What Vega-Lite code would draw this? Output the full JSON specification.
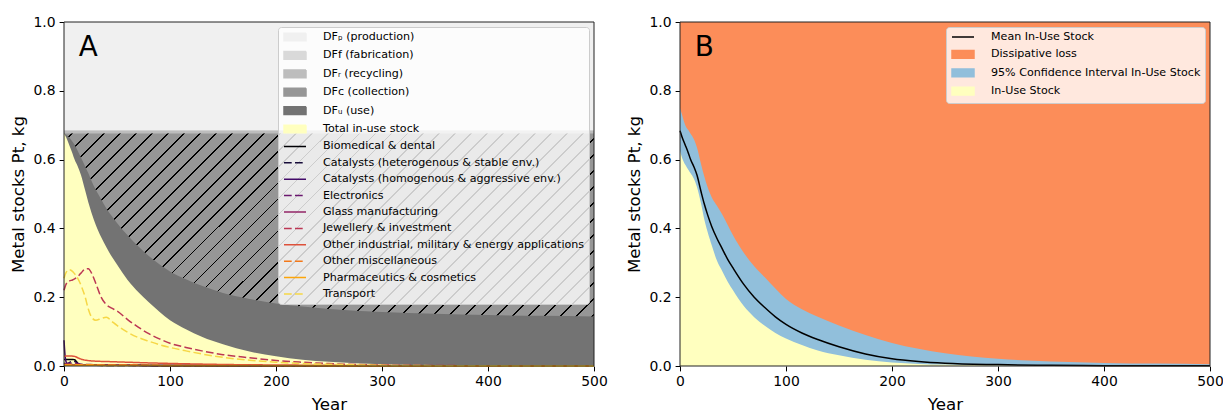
{
  "$schema": "https://vega.github.io/schema/vega-lite/v6.json",
  "background": "white",
  "padding": {"left": 10, "top": 15, "right": 5, "bottom": 2},
  "spacing": 18,
  "resolve": {"scale": {"color": "independent", "strokeDash": "independent", "x": "independent", "y": "independent"}, "legend": {"color": "independent"}},
  "config": {
    "font": "DejaVu Sans",
    "view": {"stroke": null},
    "axis": {"grid": false, "domain": false, "labelFontSize": 13.9, "titleFontSize": 16.7, "titleFontWeight": "normal", "tickSize": 4.9, "tickWidth": 1, "tickColor": "#000", "labelColor": "#000", "titleColor": "#000", "labelPadding": 4, "tickCount": 6, "labelFlush": false, "labelOverlap": false},
    "axisX": {"titlePadding": 8},
    "axisY": {"titlePadding": 5.5, "format": ".1f"},
    "legend": {"orient": "top-right", "offset": 5, "padding": 4, "fillColor": "rgba(255,255,255,0.8)", "strokeColor": "#cccccc", "cornerRadius": 3, "labelFontSize": 11.1, "labelColor": "#000", "labelLimit": 400, "symbolSize": 100, "symbolStrokeWidth": 1.5, "rowPadding": 4.4, "symbolOffset": 7, "labelOffset": 22}
  },
  "datasets": {
    "areaA": [
      {"year":0,"inuse":0.676,"dfu":0.676,"dfc":0.676,"dfr":0.684,"dff":0.686},
      {"year":2,"inuse":0.665,"dfu":0.672,"dfc":0.676,"dfr":0.684,"dff":0.686},
      {"year":5,"inuse":0.642,"dfu":0.664,"dfc":0.676,"dfr":0.684,"dff":0.686},
      {"year":8,"inuse":0.618,"dfu":0.652,"dfc":0.676,"dfr":0.684,"dff":0.686},
      {"year":10,"inuse":0.6,"dfu":0.643,"dfc":0.676,"dfr":0.684,"dff":0.686},
      {"year":13,"inuse":0.58,"dfu":0.625,"dfc":0.676,"dfr":0.684,"dff":0.686},
      {"year":16,"inuse":0.555,"dfu":0.606,"dfc":0.676,"dfr":0.684,"dff":0.686},
      {"year":20,"inuse":0.51,"dfu":0.58,"dfc":0.676,"dfr":0.684,"dff":0.686},
      {"year":23,"inuse":0.475,"dfu":0.56,"dfc":0.676,"dfr":0.684,"dff":0.686},
      {"year":26,"inuse":0.445,"dfu":0.538,"dfc":0.676,"dfr":0.684,"dff":0.686},
      {"year":30,"inuse":0.41,"dfu":0.512,"dfc":0.676,"dfr":0.684,"dff":0.686},
      {"year":35,"inuse":0.375,"dfu":0.485,"dfc":0.676,"dfr":0.684,"dff":0.686},
      {"year":40,"inuse":0.345,"dfu":0.458,"dfc":0.676,"dfr":0.684,"dff":0.686},
      {"year":45,"inuse":0.318,"dfu":0.436,"dfc":0.676,"dfr":0.684,"dff":0.686},
      {"year":50,"inuse":0.295,"dfu":0.416,"dfc":0.676,"dfr":0.684,"dff":0.686},
      {"year":60,"inuse":0.25,"dfu":0.38,"dfc":0.676,"dfr":0.684,"dff":0.686},
      {"year":70,"inuse":0.215,"dfu":0.348,"dfc":0.676,"dfr":0.684,"dff":0.686},
      {"year":80,"inuse":0.185,"dfu":0.32,"dfc":0.676,"dfr":0.684,"dff":0.686},
      {"year":90,"inuse":0.158,"dfu":0.296,"dfc":0.676,"dfr":0.684,"dff":0.686},
      {"year":100,"inuse":0.133,"dfu":0.275,"dfc":0.676,"dfr":0.684,"dff":0.686},
      {"year":115,"inuse":0.107,"dfu":0.252,"dfc":0.676,"dfr":0.684,"dff":0.686},
      {"year":130,"inuse":0.085,"dfu":0.233,"dfc":0.676,"dfr":0.684,"dff":0.686},
      {"year":150,"inuse":0.063,"dfu":0.212,"dfc":0.676,"dfr":0.684,"dff":0.686},
      {"year":175,"inuse":0.042,"dfu":0.195,"dfc":0.676,"dfr":0.684,"dff":0.686},
      {"year":200,"inuse":0.028,"dfu":0.182,"dfc":0.676,"dfr":0.684,"dff":0.686},
      {"year":225,"inuse":0.018,"dfu":0.173,"dfc":0.676,"dfr":0.684,"dff":0.686},
      {"year":250,"inuse":0.012,"dfu":0.166,"dfc":0.676,"dfr":0.684,"dff":0.686},
      {"year":300,"inuse":0.005,"dfu":0.157,"dfc":0.676,"dfr":0.684,"dff":0.686},
      {"year":350,"inuse":0.002,"dfu":0.152,"dfc":0.676,"dfr":0.684,"dff":0.686},
      {"year":400,"inuse":0.001,"dfu":0.148,"dfc":0.676,"dfr":0.684,"dff":0.686},
      {"year":450,"inuse":0.0005,"dfu":0.146,"dfc":0.676,"dfr":0.684,"dff":0.686},
      {"year":500,"inuse":0.0003,"dfu":0.144,"dfc":0.676,"dfr":0.684,"dff":0.686}
    ],
    "linesA": [
      {"s":"Biomedical & dental","year":0,"v":0.019},{"s":"Biomedical & dental","year":2,"v":0.019},{"s":"Biomedical & dental","year":5,"v":0.019},{"s":"Biomedical & dental","year":8,"v":0.019},{"s":"Biomedical & dental","year":10,"v":0.018},{"s":"Biomedical & dental","year":12,"v":0.012},{"s":"Biomedical & dental","year":14,"v":0.005},{"s":"Biomedical & dental","year":17,"v":0.003},{"s":"Biomedical & dental","year":20,"v":0.003},{"s":"Biomedical & dental","year":30,"v":0.003},{"s":"Biomedical & dental","year":40,"v":0.0028},{"s":"Biomedical & dental","year":50,"v":0.0025},{"s":"Biomedical & dental","year":70,"v":0.002},{"s":"Biomedical & dental","year":100,"v":0.0015},{"s":"Biomedical & dental","year":150,"v":0.001},{"s":"Biomedical & dental","year":200,"v":0.0006},{"s":"Biomedical & dental","year":300,"v":0.0002},{"s":"Biomedical & dental","year":500,"v":0},
      {"s":"Catalysts (heterogenous & stable env.)","year":0,"v":0.008},{"s":"Catalysts (heterogenous & stable env.)","year":3,"v":0.006},{"s":"Catalysts (heterogenous & stable env.)","year":6,"v":0.012},{"s":"Catalysts (heterogenous & stable env.)","year":9,"v":0.014},{"s":"Catalysts (heterogenous & stable env.)","year":12,"v":0.01},{"s":"Catalysts (heterogenous & stable env.)","year":15,"v":0.004},{"s":"Catalysts (heterogenous & stable env.)","year":20,"v":0.003},{"s":"Catalysts (heterogenous & stable env.)","year":30,"v":0.002},{"s":"Catalysts (heterogenous & stable env.)","year":50,"v":0.0015},{"s":"Catalysts (heterogenous & stable env.)","year":100,"v":0.001},{"s":"Catalysts (heterogenous & stable env.)","year":200,"v":0.0005},{"s":"Catalysts (heterogenous & stable env.)","year":500,"v":0},
      {"s":"Catalysts (homogenous & aggressive env.)","year":0,"v":0.075},{"s":"Catalysts (homogenous & aggressive env.)","year":1,"v":0.03},{"s":"Catalysts (homogenous & aggressive env.)","year":2,"v":0.012},{"s":"Catalysts (homogenous & aggressive env.)","year":4,"v":0.006},{"s":"Catalysts (homogenous & aggressive env.)","year":8,"v":0.004},{"s":"Catalysts (homogenous & aggressive env.)","year":15,"v":0.003},{"s":"Catalysts (homogenous & aggressive env.)","year":30,"v":0.0025},{"s":"Catalysts (homogenous & aggressive env.)","year":60,"v":0.002},{"s":"Catalysts (homogenous & aggressive env.)","year":100,"v":0.0015},{"s":"Catalysts (homogenous & aggressive env.)","year":200,"v":0.0008},{"s":"Catalysts (homogenous & aggressive env.)","year":500,"v":0},
      {"s":"Electronics","year":0,"v":0.006},{"s":"Electronics","year":5,"v":0.008},{"s":"Electronics","year":10,"v":0.009},{"s":"Electronics","year":15,"v":0.006},{"s":"Electronics","year":25,"v":0.004},{"s":"Electronics","year":40,"v":0.003},{"s":"Electronics","year":70,"v":0.002},{"s":"Electronics","year":100,"v":0.0015},{"s":"Electronics","year":200,"v":0.0007},{"s":"Electronics","year":500,"v":0},
      {"s":"Glass manufacturing","year":0,"v":0.003},{"s":"Glass manufacturing","year":10,"v":0.003},{"s":"Glass manufacturing","year":20,"v":0.0025},{"s":"Glass manufacturing","year":50,"v":0.002},{"s":"Glass manufacturing","year":100,"v":0.0015},{"s":"Glass manufacturing","year":200,"v":0.0007},{"s":"Glass manufacturing","year":500,"v":0},
      {"s":"Jewellery & investment","year":0,"v":0.22},{"s":"Jewellery & investment","year":2,"v":0.238},{"s":"Jewellery & investment","year":5,"v":0.247},{"s":"Jewellery & investment","year":8,"v":0.25},{"s":"Jewellery & investment","year":10,"v":0.253},{"s":"Jewellery & investment","year":13,"v":0.26},{"s":"Jewellery & investment","year":16,"v":0.27},{"s":"Jewellery & investment","year":20,"v":0.282},{"s":"Jewellery & investment","year":23,"v":0.283},{"s":"Jewellery & investment","year":26,"v":0.27},{"s":"Jewellery & investment","year":30,"v":0.24},{"s":"Jewellery & investment","year":35,"v":0.2},{"s":"Jewellery & investment","year":40,"v":0.178},{"s":"Jewellery & investment","year":45,"v":0.168},{"s":"Jewellery & investment","year":50,"v":0.16},{"s":"Jewellery & investment","year":60,"v":0.135},{"s":"Jewellery & investment","year":70,"v":0.113},{"s":"Jewellery & investment","year":80,"v":0.094},{"s":"Jewellery & investment","year":90,"v":0.079},{"s":"Jewellery & investment","year":100,"v":0.066},{"s":"Jewellery & investment","year":115,"v":0.054},{"s":"Jewellery & investment","year":130,"v":0.044},{"s":"Jewellery & investment","year":150,"v":0.033},{"s":"Jewellery & investment","year":175,"v":0.024},{"s":"Jewellery & investment","year":200,"v":0.016},{"s":"Jewellery & investment","year":225,"v":0.011},{"s":"Jewellery & investment","year":250,"v":0.007},{"s":"Jewellery & investment","year":300,"v":0.003},{"s":"Jewellery & investment","year":350,"v":0.0015},{"s":"Jewellery & investment","year":400,"v":0.0007},{"s":"Jewellery & investment","year":450,"v":0.0003},{"s":"Jewellery & investment","year":500,"v":0.0001},
      {"s":"Other industrial, military & energy applications","year":0,"v":0.028},{"s":"Other industrial, military & energy applications","year":3,"v":0.029},{"s":"Other industrial, military & energy applications","year":6,"v":0.029},{"s":"Other industrial, military & energy applications","year":10,"v":0.028},{"s":"Other industrial, military & energy applications","year":13,"v":0.024},{"s":"Other industrial, military & energy applications","year":16,"v":0.02},{"s":"Other industrial, military & energy applications","year":20,"v":0.017},{"s":"Other industrial, military & energy applications","year":25,"v":0.015},{"s":"Other industrial, military & energy applications","year":30,"v":0.014},{"s":"Other industrial, military & energy applications","year":40,"v":0.013},{"s":"Other industrial, military & energy applications","year":50,"v":0.012},{"s":"Other industrial, military & energy applications","year":60,"v":0.011},{"s":"Other industrial, military & energy applications","year":80,"v":0.009},{"s":"Other industrial, military & energy applications","year":100,"v":0.0075},{"s":"Other industrial, military & energy applications","year":130,"v":0.0055},{"s":"Other industrial, military & energy applications","year":160,"v":0.004},{"s":"Other industrial, military & energy applications","year":200,"v":0.003},{"s":"Other industrial, military & energy applications","year":250,"v":0.002},{"s":"Other industrial, military & energy applications","year":300,"v":0.0012},{"s":"Other industrial, military & energy applications","year":400,"v":0.0005},{"s":"Other industrial, military & energy applications","year":500,"v":0.0002},
      {"s":"Other miscellaneous","year":0,"v":0.004},{"s":"Other miscellaneous","year":10,"v":0.004},{"s":"Other miscellaneous","year":20,"v":0.0035},{"s":"Other miscellaneous","year":50,"v":0.003},{"s":"Other miscellaneous","year":100,"v":0.002},{"s":"Other miscellaneous","year":200,"v":0.001},{"s":"Other miscellaneous","year":500,"v":0},
      {"s":"Pharmaceutics & cosmetics","year":0,"v":0.002},{"s":"Pharmaceutics & cosmetics","year":20,"v":0.002},{"s":"Pharmaceutics & cosmetics","year":50,"v":0.0015},{"s":"Pharmaceutics & cosmetics","year":100,"v":0.001},{"s":"Pharmaceutics & cosmetics","year":200,"v":0.0005},{"s":"Pharmaceutics & cosmetics","year":500,"v":0},
      {"s":"Transport","year":0,"v":0.255},{"s":"Transport","year":2,"v":0.272},{"s":"Transport","year":5,"v":0.28},{"s":"Transport","year":8,"v":0.275},{"s":"Transport","year":10,"v":0.268},{"s":"Transport","year":13,"v":0.255},{"s":"Transport","year":16,"v":0.235},{"s":"Transport","year":20,"v":0.2},{"s":"Transport","year":23,"v":0.165},{"s":"Transport","year":26,"v":0.142},{"s":"Transport","year":30,"v":0.133},{"s":"Transport","year":35,"v":0.138},{"s":"Transport","year":40,"v":0.142},{"s":"Transport","year":45,"v":0.13},{"s":"Transport","year":50,"v":0.118},{"s":"Transport","year":60,"v":0.098},{"s":"Transport","year":70,"v":0.083},{"s":"Transport","year":80,"v":0.072},{"s":"Transport","year":90,"v":0.062},{"s":"Transport","year":100,"v":0.054},{"s":"Transport","year":115,"v":0.044},{"s":"Transport","year":130,"v":0.035},{"s":"Transport","year":150,"v":0.025},{"s":"Transport","year":175,"v":0.017},{"s":"Transport","year":200,"v":0.011},{"s":"Transport","year":225,"v":0.007},{"s":"Transport","year":250,"v":0.005},{"s":"Transport","year":300,"v":0.002},{"s":"Transport","year":350,"v":0.001},{"s":"Transport","year":400,"v":0.0005},{"s":"Transport","year":450,"v":0.0002},{"s":"Transport","year":500,"v":0.0001}
    ],
    "panelB": [
      {"year":0,"lo":0.625,"mean":0.684,"hi":0.75},{"year":2,"lo":0.605,"mean":0.665,"hi":0.73},{"year":5,"lo":0.585,"mean":0.642,"hi":0.7},{"year":8,"lo":0.57,"mean":0.618,"hi":0.685},{"year":10,"lo":0.56,"mean":0.6,"hi":0.675},{"year":13,"lo":0.545,"mean":0.58,"hi":0.66},{"year":16,"lo":0.52,"mean":0.555,"hi":0.635},{"year":20,"lo":0.47,"mean":0.505,"hi":0.585},{"year":23,"lo":0.425,"mean":0.47,"hi":0.55},{"year":26,"lo":0.39,"mean":0.44,"hi":0.52},{"year":30,"lo":0.35,"mean":0.405,"hi":0.49},{"year":35,"lo":0.305,"mean":0.37,"hi":0.465},{"year":40,"lo":0.275,"mean":0.34,"hi":0.44},{"year":45,"lo":0.245,"mean":0.31,"hi":0.41},{"year":50,"lo":0.22,"mean":0.285,"hi":0.38},{"year":60,"lo":0.175,"mean":0.238,"hi":0.33},{"year":70,"lo":0.142,"mean":0.2,"hi":0.29},{"year":80,"lo":0.117,"mean":0.17,"hi":0.258},{"year":90,"lo":0.096,"mean":0.143,"hi":0.225},{"year":100,"lo":0.08,"mean":0.121,"hi":0.195},{"year":115,"lo":0.061,"mean":0.096,"hi":0.165},{"year":130,"lo":0.045,"mean":0.077,"hi":0.143},{"year":150,"lo":0.031,"mean":0.056,"hi":0.118},{"year":175,"lo":0.018,"mean":0.035,"hi":0.09},{"year":200,"lo":0.01,"mean":0.021,"hi":0.067},{"year":225,"lo":0.006,"mean":0.013,"hi":0.05},{"year":250,"lo":0.004,"mean":0.008,"hi":0.037},{"year":300,"lo":0.002,"mean":0.004,"hi":0.021},{"year":350,"lo":0.001,"mean":0.002,"hi":0.013},{"year":400,"lo":0.0005,"mean":0.001,"hi":0.009},{"year":450,"lo":0.0002,"mean":0.0006,"hi":0.007},{"year":500,"lo":0.0001,"mean":0.0004,"hi":0.005}
    ]
  },
  "hconcat": [
    {
      "width": 530, "height": 344,
      "layer": [
        {"data": {"name": "areaA"},
         "mark": {"type": "area", "interpolate": "monotone"},
         "encoding": {
           "x": {"field": "year", "type": "quantitative", "scale": {"domain": [0, 500]}, "title": "Year"},
           "y": {"datum": 1, "type": "quantitative", "scale": {"domain": [0, 1]}, "title": "Metal stocks Pt, kg"},
           "color": {"datum": "DFₚ (production)", "type": "nominal", "title": null,
             "scale": {"domain": ["DFₚ (production)", "DFf (fabrication)", "DFᵣ (recycling)", "DFc (collection)", "DFᵤ (use)", "Total in-use stock", "Biomedical & dental", "Catalysts (heterogenous & stable env.)", "Catalysts (homogenous & aggressive env.)", "Electronics", "Glass manufacturing", "Jewellery & investment", "Other industrial, military & energy applications", "Other miscellaneous", "Pharmaceutics & cosmetics", "Transport"],
                       "range": ["#f0f0f0", "#d9d9d9", "#bdbdbd", "#969696", "#737373", "#ffffbf", "#000004", "#160b39", "#420a68", "#6a176e", "#932667", "#bc3754", "#dd513a", "#f37819", "#fca50a", "#f6d746"]},
             "legend": {"title": null,
               "encode": {"symbols": {"update": {
                 "shape": {"signal": "datum.index < 6 ? 'M-2.2,-0.77H2.2V0.77H-2.2Z' : 'M-2.2,0H2.2'"},
                 "fill": {"signal": "datum.index == 1 ? {gradient: 'linear', x1: 0, y1: 0.35, x2: 1, y2: 0, stops: [{offset: 0, color: '#d9d9d9'}, {offset: 0.37, color: '#d9d9d9'}, {offset: 0.37, color: '#000'}, {offset: 0.43, color: '#000'}, {offset: 0.43, color: '#d9d9d9'}, {offset: 1, color: '#d9d9d9'}]} : datum.index == 3 ? {gradient: 'linear', x1: 0, y1: 0, x2: 1, y2: 0.35, stops: [{offset: 0, color: '#969696'}, {offset: 0.57, color: '#969696'}, {offset: 0.57, color: '#000'}, {offset: 0.63, color: '#000'}, {offset: 0.63, color: '#969696'}, {offset: 1, color: '#969696'}]} : datum.index < 6 ? ['#f0f0f0', '#d9d9d9', '#bdbdbd', '#969696', '#737373', '#ffffbf'][datum.index] : 'transparent'"},
                 "stroke": {"signal": "datum.index < 6 ? 'transparent' : ['#000004', '#160b39', '#420a68', '#6a176e', '#932667', '#bc3754', '#dd513a', '#f37819', '#fca50a', '#f6d746'][datum.index - 6]"},
                 "strokeDash": {"signal": "datum.index >= 6 && datum.index % 2 == 1 ? [7.7, 3.3] : [1, 0]"},
                 "opacity": {"value": 1}
               }}}}}}},
        {"data": {"name": "areaA"},
         "mark": {"type": "area", "interpolate": "monotone"},
         "encoding": {"x": {"field": "year", "type": "quantitative", "scale": {"domain": [0, 500]}, "title": "Year"}, "y": {"field": "dff", "type": "quantitative", "scale": {"domain": [0, 1]}, "title": "Metal stocks Pt, kg"}, "color": {"datum": "DFf (fabrication)", "type": "nominal", "title": null}}},
        {"data": {"name": "areaA"},
         "mark": {"type": "area", "interpolate": "monotone"},
         "encoding": {"x": {"field": "year", "type": "quantitative", "scale": {"domain": [0, 500]}, "title": "Year"}, "y": {"field": "dfr", "type": "quantitative", "scale": {"domain": [0, 1]}, "title": "Metal stocks Pt, kg"}, "color": {"datum": "DFᵣ (recycling)", "type": "nominal", "title": null}}},
        {"data": {"name": "areaA"},
         "mark": {"type": "area", "interpolate": "monotone"},
         "encoding": {"x": {"field": "year", "type": "quantitative", "scale": {"domain": [0, 500]}, "title": "Year"}, "y": {"field": "dfc", "type": "quantitative", "scale": {"domain": [0, 1]}, "title": "Metal stocks Pt, kg"}, "color": {"datum": "DFc (collection)", "type": "nominal", "title": null}}},
        {"data": {"name": "areaA"},
         "mark": {"type": "area", "interpolate": "monotone",
           "fill": {"gradient": "linear", "x1": 0, "y1": 0, "x2": 1.21, "y2": 0.531, "stops": [
             {"offset":0,"color":"rgba(0,0,0,0)"},
             {"offset":0.0090,"color":"rgba(0,0,0,0)"},{"offset":0.0090,"color":"#000"},{"offset":0.0115,"color":"#000"},{"offset":0.0115,"color":"rgba(0,0,0,0)"},
             {"offset":0.0299,"color":"rgba(0,0,0,0)"},{"offset":0.0299,"color":"#000"},{"offset":0.0324,"color":"#000"},{"offset":0.0324,"color":"rgba(0,0,0,0)"},
             {"offset":0.0508,"color":"rgba(0,0,0,0)"},{"offset":0.0508,"color":"#000"},{"offset":0.0533,"color":"#000"},{"offset":0.0533,"color":"rgba(0,0,0,0)"},
             {"offset":0.0717,"color":"rgba(0,0,0,0)"},{"offset":0.0717,"color":"#000"},{"offset":0.0742,"color":"#000"},{"offset":0.0742,"color":"rgba(0,0,0,0)"},
             {"offset":0.0926,"color":"rgba(0,0,0,0)"},{"offset":0.0926,"color":"#000"},{"offset":0.0951,"color":"#000"},{"offset":0.0951,"color":"rgba(0,0,0,0)"},
             {"offset":0.1135,"color":"rgba(0,0,0,0)"},{"offset":0.1135,"color":"#000"},{"offset":0.1160,"color":"#000"},{"offset":0.1160,"color":"rgba(0,0,0,0)"},
             {"offset":0.1344,"color":"rgba(0,0,0,0)"},{"offset":0.1344,"color":"#000"},{"offset":0.1369,"color":"#000"},{"offset":0.1369,"color":"rgba(0,0,0,0)"},
             {"offset":0.1553,"color":"rgba(0,0,0,0)"},{"offset":0.1553,"color":"#000"},{"offset":0.1578,"color":"#000"},{"offset":0.1578,"color":"rgba(0,0,0,0)"},
             {"offset":0.1762,"color":"rgba(0,0,0,0)"},{"offset":0.1762,"color":"#000"},{"offset":0.1787,"color":"#000"},{"offset":0.1787,"color":"rgba(0,0,0,0)"},
             {"offset":0.1971,"color":"rgba(0,0,0,0)"},{"offset":0.1971,"color":"#000"},{"offset":0.1996,"color":"#000"},{"offset":0.1996,"color":"rgba(0,0,0,0)"},
             {"offset":0.2180,"color":"rgba(0,0,0,0)"},{"offset":0.2180,"color":"#000"},{"offset":0.2205,"color":"#000"},{"offset":0.2205,"color":"rgba(0,0,0,0)"},
             {"offset":0.2389,"color":"rgba(0,0,0,0)"},{"offset":0.2389,"color":"#000"},{"offset":0.2414,"color":"#000"},{"offset":0.2414,"color":"rgba(0,0,0,0)"},
             {"offset":0.2598,"color":"rgba(0,0,0,0)"},{"offset":0.2598,"color":"#000"},{"offset":0.2623,"color":"#000"},{"offset":0.2623,"color":"rgba(0,0,0,0)"},
             {"offset":0.2807,"color":"rgba(0,0,0,0)"},{"offset":0.2807,"color":"#000"},{"offset":0.2832,"color":"#000"},{"offset":0.2832,"color":"rgba(0,0,0,0)"},
             {"offset":0.3016,"color":"rgba(0,0,0,0)"},{"offset":0.3016,"color":"#000"},{"offset":0.3041,"color":"#000"},{"offset":0.3041,"color":"rgba(0,0,0,0)"},
             {"offset":0.3225,"color":"rgba(0,0,0,0)"},{"offset":0.3225,"color":"#000"},{"offset":0.3250,"color":"#000"},{"offset":0.3250,"color":"rgba(0,0,0,0)"},
             {"offset":0.3434,"color":"rgba(0,0,0,0)"},{"offset":0.3434,"color":"#000"},{"offset":0.3459,"color":"#000"},{"offset":0.3459,"color":"rgba(0,0,0,0)"},
             {"offset":0.3643,"color":"rgba(0,0,0,0)"},{"offset":0.3643,"color":"#000"},{"offset":0.3668,"color":"#000"},{"offset":0.3668,"color":"rgba(0,0,0,0)"},
             {"offset":0.3852,"color":"rgba(0,0,0,0)"},{"offset":0.3852,"color":"#000"},{"offset":0.3877,"color":"#000"},{"offset":0.3877,"color":"rgba(0,0,0,0)"},
             {"offset":0.4061,"color":"rgba(0,0,0,0)"},{"offset":0.4061,"color":"#000"},{"offset":0.4086,"color":"#000"},{"offset":0.4086,"color":"rgba(0,0,0,0)"},
             {"offset":0.4270,"color":"rgba(0,0,0,0)"},{"offset":0.4270,"color":"#000"},{"offset":0.4295,"color":"#000"},{"offset":0.4295,"color":"rgba(0,0,0,0)"},
             {"offset":0.4479,"color":"rgba(0,0,0,0)"},{"offset":0.4479,"color":"#000"},{"offset":0.4504,"color":"#000"},{"offset":0.4504,"color":"rgba(0,0,0,0)"},
             {"offset":0.4688,"color":"rgba(0,0,0,0)"},{"offset":0.4688,"color":"#000"},{"offset":0.4713,"color":"#000"},{"offset":0.4713,"color":"rgba(0,0,0,0)"},
             {"offset":0.4897,"color":"rgba(0,0,0,0)"},{"offset":0.4897,"color":"#000"},{"offset":0.4922,"color":"#000"},{"offset":0.4922,"color":"rgba(0,0,0,0)"},
             {"offset":0.5106,"color":"rgba(0,0,0,0)"},{"offset":0.5106,"color":"#000"},{"offset":0.5131,"color":"#000"},{"offset":0.5131,"color":"rgba(0,0,0,0)"},
             {"offset":0.5315,"color":"rgba(0,0,0,0)"},{"offset":0.5315,"color":"#000"},{"offset":0.5340,"color":"#000"},{"offset":0.5340,"color":"rgba(0,0,0,0)"},
             {"offset":0.5524,"color":"rgba(0,0,0,0)"},{"offset":0.5524,"color":"#000"},{"offset":0.5549,"color":"#000"},{"offset":0.5549,"color":"rgba(0,0,0,0)"},
             {"offset":0.5733,"color":"rgba(0,0,0,0)"},{"offset":0.5733,"color":"#000"},{"offset":0.5758,"color":"#000"},{"offset":0.5758,"color":"rgba(0,0,0,0)"},
             {"offset":0.5942,"color":"rgba(0,0,0,0)"},{"offset":0.5942,"color":"#000"},{"offset":0.5967,"color":"#000"},{"offset":0.5967,"color":"rgba(0,0,0,0)"},
             {"offset":0.6151,"color":"rgba(0,0,0,0)"},{"offset":0.6151,"color":"#000"},{"offset":0.6176,"color":"#000"},{"offset":0.6176,"color":"rgba(0,0,0,0)"},
             {"offset":0.6360,"color":"rgba(0,0,0,0)"},{"offset":0.6360,"color":"#000"},{"offset":0.6385,"color":"#000"},{"offset":0.6385,"color":"rgba(0,0,0,0)"},
             {"offset":0.6569,"color":"rgba(0,0,0,0)"},{"offset":0.6569,"color":"#000"},{"offset":0.6594,"color":"#000"},{"offset":0.6594,"color":"rgba(0,0,0,0)"},
             {"offset":0.6778,"color":"rgba(0,0,0,0)"},{"offset":0.6778,"color":"#000"},{"offset":0.6803,"color":"#000"},{"offset":0.6803,"color":"rgba(0,0,0,0)"},
             {"offset":0.6987,"color":"rgba(0,0,0,0)"},{"offset":0.6987,"color":"#000"},{"offset":0.7012,"color":"#000"},{"offset":0.7012,"color":"rgba(0,0,0,0)"},
             {"offset":0.7196,"color":"rgba(0,0,0,0)"},{"offset":0.7196,"color":"#000"},{"offset":0.7221,"color":"#000"},{"offset":0.7221,"color":"rgba(0,0,0,0)"},
             {"offset":0.7405,"color":"rgba(0,0,0,0)"},{"offset":0.7405,"color":"#000"},{"offset":0.7430,"color":"#000"},{"offset":0.7430,"color":"rgba(0,0,0,0)"},
             {"offset":0.7614,"color":"rgba(0,0,0,0)"},{"offset":0.7614,"color":"#000"},{"offset":0.7639,"color":"#000"},{"offset":0.7639,"color":"rgba(0,0,0,0)"},
             {"offset":0.7823,"color":"rgba(0,0,0,0)"},{"offset":0.7823,"color":"#000"},{"offset":0.7848,"color":"#000"},{"offset":0.7848,"color":"rgba(0,0,0,0)"},
             {"offset":0.8032,"color":"rgba(0,0,0,0)"},{"offset":0.8032,"color":"#000"},{"offset":0.8057,"color":"#000"},{"offset":0.8057,"color":"rgba(0,0,0,0)"},
             {"offset":0.8241,"color":"rgba(0,0,0,0)"},{"offset":0.8241,"color":"#000"},{"offset":0.8266,"color":"#000"},{"offset":0.8266,"color":"rgba(0,0,0,0)"},
             {"offset":0.8450,"color":"rgba(0,0,0,0)"},{"offset":0.8450,"color":"#000"},{"offset":0.8475,"color":"#000"},{"offset":0.8475,"color":"rgba(0,0,0,0)"},
             {"offset":0.8659,"color":"rgba(0,0,0,0)"},{"offset":0.8659,"color":"#000"},{"offset":0.8684,"color":"#000"},{"offset":0.8684,"color":"rgba(0,0,0,0)"},
             {"offset":0.8868,"color":"rgba(0,0,0,0)"},{"offset":0.8868,"color":"#000"},{"offset":0.8893,"color":"#000"},{"offset":0.8893,"color":"rgba(0,0,0,0)"},
             {"offset":0.9077,"color":"rgba(0,0,0,0)"},{"offset":0.9077,"color":"#000"},{"offset":0.9102,"color":"#000"},{"offset":0.9102,"color":"rgba(0,0,0,0)"},
             {"offset":0.9286,"color":"rgba(0,0,0,0)"},{"offset":0.9286,"color":"#000"},{"offset":0.9311,"color":"#000"},{"offset":0.9311,"color":"rgba(0,0,0,0)"},
             {"offset":0.9495,"color":"rgba(0,0,0,0)"},{"offset":0.9495,"color":"#000"},{"offset":0.9520,"color":"#000"},{"offset":0.9520,"color":"rgba(0,0,0,0)"},
             {"offset":0.9704,"color":"rgba(0,0,0,0)"},{"offset":0.9704,"color":"#000"},{"offset":0.9729,"color":"#000"},{"offset":0.9729,"color":"rgba(0,0,0,0)"},
             {"offset":0.9913,"color":"rgba(0,0,0,0)"},{"offset":0.9913,"color":"#000"},{"offset":0.9938,"color":"#000"},{"offset":0.9938,"color":"rgba(0,0,0,0)"},
             {"offset":1,"color":"rgba(0,0,0,0)"}
           ]}},
         "encoding": {"x": {"field": "year", "type": "quantitative", "scale": {"domain": [0, 500]}, "title": "Year"}, "y": {"field": "dfc", "type": "quantitative", "scale": {"domain": [0, 1]}, "title": "Metal stocks Pt, kg"}}},
        {"data": {"name": "areaA"},
         "mark": {"type": "area", "interpolate": "monotone"},
         "encoding": {"x": {"field": "year", "type": "quantitative", "scale": {"domain": [0, 500]}, "title": "Year"}, "y": {"field": "dfu", "type": "quantitative", "scale": {"domain": [0, 1]}, "title": "Metal stocks Pt, kg"}, "color": {"datum": "DFᵤ (use)", "type": "nominal", "title": null}}},
        {"data": {"name": "areaA"},
         "mark": {"type": "area", "interpolate": "monotone"},
         "encoding": {"x": {"field": "year", "type": "quantitative", "scale": {"domain": [0, 500]}, "title": "Year"}, "y": {"field": "inuse", "type": "quantitative", "scale": {"domain": [0, 1]}, "title": "Metal stocks Pt, kg"}, "color": {"datum": "Total in-use stock", "type": "nominal", "title": null}}},
        {"data": {"name": "linesA"},
         "mark": {"type": "line", "interpolate": "monotone", "strokeWidth": 1.5},
         "encoding": {
           "x": {"field": "year", "type": "quantitative", "scale": {"domain": [0, 500]}, "title": "Year"},
           "y": {"field": "v", "type": "quantitative", "scale": {"domain": [0, 1]}, "title": "Metal stocks Pt, kg"},
           "color": {"field": "s", "type": "nominal", "title": null},
           "strokeDash": {"field": "s", "type": "nominal", "legend": null,
             "scale": {"domain": ["Biomedical & dental", "Catalysts (heterogenous & stable env.)", "Catalysts (homogenous & aggressive env.)", "Electronics", "Glass manufacturing", "Jewellery & investment", "Other industrial, military & energy applications", "Other miscellaneous", "Pharmaceutics & cosmetics", "Transport"],
                       "range": [[1, 0], [7.7, 3.3], [1, 0], [7.7, 3.3], [1, 0], [7.7, 3.3], [1, 0], [7.7, 3.3], [1, 0], [7.7, 3.3]]}}}},
        {"data": {"values": [{"label": "A", "x": 14, "y": 0.9}]},
         "mark": {"type": "text", "fontSize": 27.8, "align": "left", "baseline": "alphabetic", "color": "#000"},
         "encoding": {"x": {"field": "x", "type": "quantitative", "scale": {"domain": [0, 500]}, "title": "Year"}, "y": {"field": "y", "type": "quantitative", "scale": {"domain": [0, 1]}, "title": "Metal stocks Pt, kg"}, "text": {"field": "label"}}},
        {"data": {"values": [{"x": 0, "x2": 500, "y": 0, "y2": 1}]},
         "mark": {"type": "rect", "fill": "transparent", "stroke": "#222", "strokeWidth": 1},
         "encoding": {"x": {"field": "x", "type": "quantitative", "scale": {"domain": [0, 500]}, "title": "Year"}, "x2": {"field": "x2"}, "y": {"field": "y", "type": "quantitative", "scale": {"domain": [0, 1]}, "title": "Metal stocks Pt, kg"}, "y2": {"field": "y2"}}}
      ]
    },
    {
      "width": 530, "height": 344,
      "layer": [
        {"data": {"name": "panelB"},
         "mark": {"type": "area", "interpolate": "monotone"},
         "encoding": {
           "x": {"field": "year", "type": "quantitative", "scale": {"domain": [0, 500]}, "title": "Year"},
           "y": {"datum": 1, "type": "quantitative", "scale": {"domain": [0, 1]}, "title": "Metal stocks Pt, kg"},
           "color": {"datum": "Dissipative loss", "type": "nominal", "title": null,
             "scale": {"domain": ["Mean In-Use Stock", "Dissipative loss", "95% Confidence Interval In-Use Stock", "In-Use Stock"], "range": ["#000000", "#fc8d59", "#91bfdb", "#ffffbf"]},
             "legend": {"title": null,
               "encode": {"symbols": {"update": {
                 "shape": {"signal": "datum.index == 0 ? 'M-2.2,0H2.2' : 'M-2.2,-0.77H2.2V0.77H-2.2Z'"},
                 "fill": {"signal": "datum.index == 0 ? 'transparent' : ['#000000', '#fc8d59', '#91bfdb', '#ffffbf'][datum.index]"},
                 "stroke": {"signal": "datum.index == 0 ? '#000000' : 'transparent'"},
                 "opacity": {"value": 1}
               }}}}}}},
        {"data": {"name": "panelB"},
         "mark": {"type": "area", "interpolate": "monotone"},
         "encoding": {"x": {"field": "year", "type": "quantitative", "scale": {"domain": [0, 500]}, "title": "Year"}, "y": {"field": "hi", "type": "quantitative", "scale": {"domain": [0, 1]}, "title": "Metal stocks Pt, kg"}, "color": {"datum": "95% Confidence Interval In-Use Stock", "type": "nominal", "title": null}}},
        {"data": {"name": "panelB"},
         "mark": {"type": "area", "interpolate": "monotone"},
         "encoding": {"x": {"field": "year", "type": "quantitative", "scale": {"domain": [0, 500]}, "title": "Year"}, "y": {"field": "lo", "type": "quantitative", "scale": {"domain": [0, 1]}, "title": "Metal stocks Pt, kg"}, "color": {"datum": "In-Use Stock", "type": "nominal", "title": null}}},
        {"data": {"name": "panelB"},
         "mark": {"type": "line", "interpolate": "monotone", "strokeWidth": 1.5},
         "encoding": {"x": {"field": "year", "type": "quantitative", "scale": {"domain": [0, 500]}, "title": "Year"}, "y": {"field": "mean", "type": "quantitative", "scale": {"domain": [0, 1]}, "title": "Metal stocks Pt, kg"}, "color": {"datum": "Mean In-Use Stock", "type": "nominal", "title": null}}},
        {"data": {"values": [{"label": "B", "x": 14, "y": 0.9}]},
         "mark": {"type": "text", "fontSize": 27.8, "align": "left", "baseline": "alphabetic", "color": "#000"},
         "encoding": {"x": {"field": "x", "type": "quantitative", "scale": {"domain": [0, 500]}, "title": "Year"}, "y": {"field": "y", "type": "quantitative", "scale": {"domain": [0, 1]}, "title": "Metal stocks Pt, kg"}, "text": {"field": "label"}}},
        {"data": {"values": [{"x": 0, "x2": 500, "y": 0, "y2": 1}]},
         "mark": {"type": "rect", "fill": "transparent", "stroke": "#222", "strokeWidth": 1},
         "encoding": {"x": {"field": "x", "type": "quantitative", "scale": {"domain": [0, 500]}, "title": "Year"}, "x2": {"field": "x2"}, "y": {"field": "y", "type": "quantitative", "scale": {"domain": [0, 1]}, "title": "Metal stocks Pt, kg"}, "y2": {"field": "y2"}}}
      ]
    }
  ]
}
